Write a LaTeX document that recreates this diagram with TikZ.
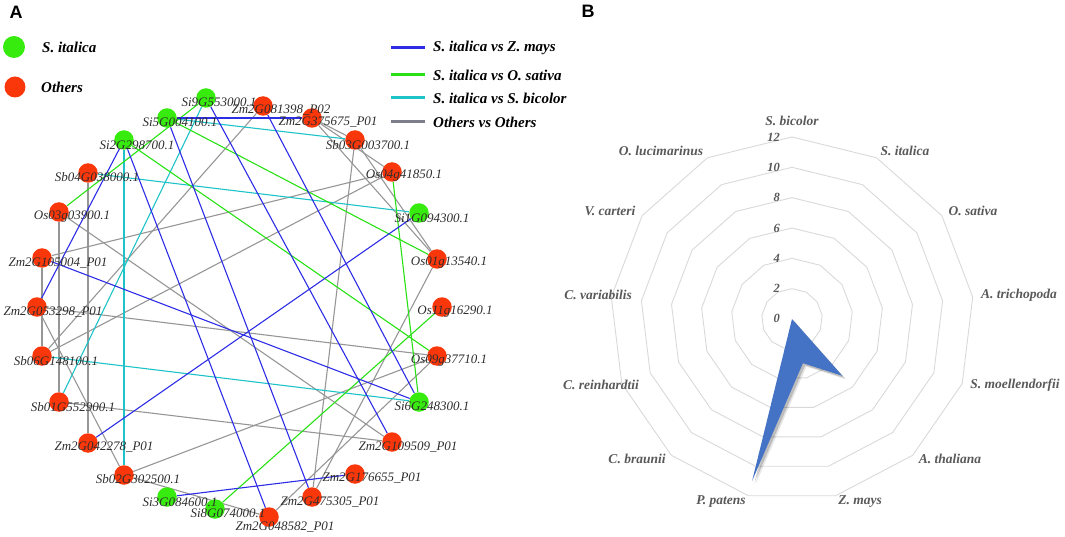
\documentclass[tikz,border=0pt]{standalone}
\usepackage{fontspec}
\setmainfont{Liberation Serif}
\newfontfamily\arialfont{Liberation Sans}
\definecolor{ngreen}{RGB}{55,235,15}
\definecolor{nred}{RGB}{250,55,10}
\definecolor{eblue}{RGB}{45,45,230}
\definecolor{egreen}{RGB}{40,225,20}
\definecolor{ecyan}{RGB}{30,195,200}
\definecolor{egray}{RGB}{150,150,150}
\definecolor{lgray}{RGB}{125,125,140}
\definecolor{labgray}{RGB}{45,45,45}
\definecolor{ringgray}{RGB}{217,217,217}
\definecolor{radtext}{RGB}{89,89,89}
\definecolor{radfill}{RGB}{68,114,196}
\pgfdeclarelayer{edges}
\pgfsetlayers{edges,main}
\tikzset{
  gn/.style={circle,fill=ngreen,minimum size=19.5pt,inner sep=0pt},
  rn/.style={circle,fill=nred,minimum size=19.5pt,inner sep=0pt},
  lab/.style={font=\fontsize{13}{13}\selectfont\itshape,text=labgray,inner sep=0pt},
  eb/.style={draw=eblue,line width=1.1pt},
  eg/.style={draw=egreen,line width=1.1pt},
  ec/.style={draw=ecyan,line width=1.1pt},
  ey/.style={draw=egray,line width=1.1pt},
  legtext/.style={font=\fontsize{15}{15}\selectfont\bfseries\itshape,anchor=west,inner sep=0pt},
  legline/.style={line width=3pt},
  ring/.style={draw=ringgray,line width=0.9pt},
  axlab/.style={font=\fontsize{13.5}{13.5}\selectfont\bfseries\itshape,text=radtext,inner sep=0pt},
  numlab/.style={font=\fontsize{12.5}{12.5}\selectfont\bfseries\itshape,text=radtext,inner sep=0pt,anchor=east},
  panel/.style={font=\fontsize{18}{18}\selectfont\arialfont\bfseries,inner sep=0pt}
}
\begin{document}
\begin{tikzpicture}[x=1pt,y=-1pt]
\useasboundingbox (0,0) rectangle (1065,537);
% panel labels
\node[panel] (pA) at (16,12) {A};
\node[panel] (pB) at (588,11) {B};
% legend left
\node[gn,minimum size=22pt] (lgS) at (14,47) {};
\node[legtext] (lgSt) at (42,47) {S. italica};
\node[rn,minimum size=21pt] (lgO) at (15,87) {};
\node[legtext] (lgOt) at (41,87) {Others};
% legend right
\coordinate (l1a) at (391,48); \coordinate (l1b) at (425,48);
\coordinate (l2a) at (391,75); \coordinate (l2b) at (425,75);
\coordinate (l3a) at (391,98); \coordinate (l3b) at (425,98);
\coordinate (l4a) at (391,122); \coordinate (l4b) at (425,122);
\draw[legline,eblue] (l1a) -- (l1b);
\draw[legline,egreen] (l2a) -- (l2b);
\draw[legline,ecyan] (l3a) -- (l3b);
\draw[legline,lgray] (l4a) -- (l4b);
\node[legtext] (lt1) at (433,48) {S. italica vs Z. mays};
\node[legtext] (lt2) at (433,75) {S. italica vs O. sativa};
\node[legtext] (lt3) at (433,98) {S. italica vs S. bicolor};
\node[legtext] (lt4) at (433,122) {Others vs Others};
% network nodes
\node[gn] (S9) at (206,98) {};
\node[gn] (S5) at (167,118) {};
\node[gn] (S2) at (124,140) {};
\node[rn] (B4) at (88,173) {};
\node[rn] (O3) at (59,212) {};
\node[rn] (Z105) at (42,258) {};
\node[rn] (Z053) at (37,307) {};
\node[rn] (B6) at (42,356) {};
\node[rn] (B1) at (59,402) {};
\node[rn] (Z042) at (88,443) {};
\node[rn] (B2) at (124,475) {};
\node[gn] (S3) at (167,497) {};
\node[gn] (S8) at (215,509) {};
\node[rn] (Z048) at (269,517) {};
\node[rn] (Z475) at (312,497) {};
\node[rn] (Z176) at (355,474) {};
\node[rn] (Z109) at (392,442) {};
\node[gn] (S6) at (419,402) {};
\node[rn] (O9) at (437,356) {};
\node[rn] (O11) at (442,307) {};
\node[rn] (O1) at (437,259) {};
\node[gn] (S1) at (419,213) {};
\node[rn] (O4) at (392,172) {};
\node[rn] (B3) at (355,140) {};
\node[rn] (Z375) at (312,118) {};
\node[rn] (Z081) at (263,106) {};
% edges
\begin{pgfonlayer}{edges}
\draw[ey] (Z081) -- (B6);
\draw[ey] (B6) -- (O4);
\draw[ey] (Z105) -- (O4);
\draw[ey] (O3) -- (Z109);
\draw[ey] (Z053) -- (O9);
\draw[ey] (B1) -- (Z109);
\draw[ey] (O9) -- (B2);
\draw[ey] (O1) -- (Z475);
\draw[ey] (O9) -- (Z048);
\draw[ey] (B3) -- (Z475);
\draw[ey] (O3) -- (B1);
\draw[ey] (B4) -- (Z042);
\draw[ey] (Z105) -- (B6);
\draw[ey] (Z053) -- (B2);
\draw[ey] (B2) -- (Z048);
\draw[ey] (Z375) -- (O1);
\draw[ey] (B3) -- (O1);
\draw[ey] (Z375) -- (B3);
\draw[ey] (Z375) -- (O4);
\draw[ec] (S9) -- (B1);
\draw[ec] (S2) -- (B2);
\draw[ec] (S5) -- (B3);
\draw[ec] (B4) -- (S1);
\draw[ec] (B6) -- (S6);
\draw[eg] (S9) -- (O3);
\draw[eg] (S2) -- (O9);
\draw[eg] (S5) -- (O1);
\draw[eg] (O4) -- (S6);
\draw[eg] (S8) -- (O11);
\draw[eb] (S5) -- (Z375);
\draw[eb] (S9) -- (Z109);
\draw[eb] (Z081) -- (S6);
\draw[eb] (S1) -- (Z042);
\draw[eb] (S2) -- (Z053);
\draw[eb] (S2) -- (Z048);
\draw[eb] (S5) -- (Z475);
\draw[eb] (Z105) -- (S6);
\draw[eb] (S3) -- (Z176);
\end{pgfonlayer}
% labels
\node[lab] (tS9) at (219,102) {Si9G553000.1};
\node[lab] (tS5) at (180,122) {Si5G004100.1};
\node[lab] (tS2) at (137,145) {Si2G298700.1};
\node[lab] (tB4) at (97,177) {Sb04G038000.1};
\node[lab] (tO3) at (72,217) {Os03g03900.1};
\node[lab] (tZ105) at (58,263) {Zm2G105004\_P01};
\node[lab] (tZ053) at (53,312) {Zm2G053298\_P01};
\node[lab] (tB6) at (56,361) {Sb06G148100.1};
\node[lab] (tB1) at (73,407) {Sb01G552900.1};
\node[lab] (tZ042) at (104,447) {Zm2G042278\_P01};
\node[lab] (tB2) at (138,479) {Sb02G302500.1};
\node[lab] (tS3) at (180,502) {Si3G084600.1};
\node[lab] (tS8) at (228,513) {Si8G074000.1};
\node[lab] (tZ048) at (285,527) {Zm2G048582\_P01};
\node[lab] (tZ475) at (330,502) {Zm2G475305\_P01};
\node[lab] (tZ176) at (372,478) {Zm2G176655\_P01};
\node[lab] (tZ109) at (408,447) {Zm2G109509\_P01};
\node[lab] (tS6) at (432,406) {Si6G248300.1};
\node[lab] (tO9) at (449,361) {Os09g37710.1};
\node[lab] (tO11) at (455,312) {Os11g16290.1};
\node[lab] (tO1) at (449,263) {Os01g13540.1};
\node[lab] (tS1) at (432,218) {Si1G094300.1};
\node[lab] (tO4) at (404,176) {Os04g41850.1};
\node[lab] (tB3) at (368,145) {Sb03G003700.1};
\node[lab] (tZ375) at (328,122) {Zm2G375675\_P01};
\node[lab] (tZ081) at (281,110) {Zm2G081398\_P02};
% radar chart
\begin{scope}[shift={(792,319)},yscale=-1]
  \foreach \v in {2,4,...,12}{
    \draw[ring] (90:{\v*15.17}) \foreach \k in {1,...,12}{ -- ({90-\k*360/13}:{\v*15.17}) } -- cycle;
  }
  \coordinate (rc) at (0,0);
  \coordinate (rA) at ({90-5*360/13}:{5*15.17});
  \coordinate (rZ) at ({90-6*360/13}:{3*15.17});
  \coordinate (rP) at ({90-7*360/13}:{11*15.17});
  \fill[black,opacity=0.10] ([shift={(3.5,-3.5)}]rc) -- ([shift={(3.5,-3.5)}]rA) -- ([shift={(3.5,-3.5)}]rZ) -- ([shift={(3.5,-3.5)}]rP) -- cycle;
  \fill[black,opacity=0.18] ([shift={(2.2,-2.2)}]rc) -- ([shift={(2.2,-2.2)}]rA) -- ([shift={(2.2,-2.2)}]rZ) -- ([shift={(2.2,-2.2)}]rP) -- cycle;
  \fill[radfill] (rc) -- (rA) -- (rZ) -- (rP) -- cycle;
\end{scope}
\foreach \v/\yy in {0/318,2/288,4/258,6/228,8/197,10/167,12/137}{
  \node[numlab] at (780,\yy) {\v};
}
\node[axlab] (a1) at (792,121) {S. bicolor};
\node[axlab] (a2) at (905,151) {S. italica};
\node[axlab] (a3) at (973,211) {O. sativa};
\node[axlab] (a4) at (1019,295) {A. trichopoda};
\node[axlab] (a5) at (1015,385) {S. moellendorfii};
\node[axlab] (a6) at (950,459) {A. thaliana};
\node[axlab] (a7) at (860,502) {Z. mays};
\node[axlab] (a8) at (721,502) {P. patens};
\node[axlab] (a9) at (637,459) {C. braunii};
\node[axlab] (a10) at (601,385) {C. reinhardtii};
\node[axlab] (a11) at (598,295) {C. variabilis};
\node[axlab] (a12) at (610,211) {V. carteri};
\node[axlab] (a13) at (661,151) {O. lucimarinus};
\end{tikzpicture}
\end{document}
